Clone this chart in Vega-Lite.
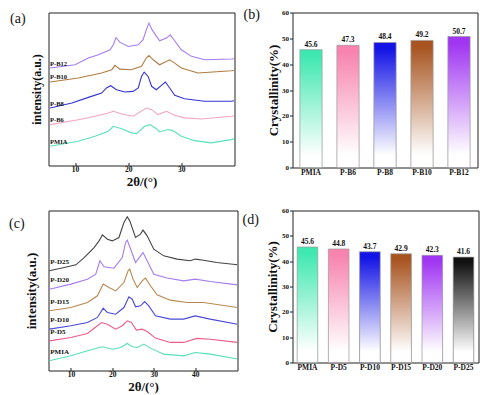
{
  "$schema": "https://vega.github.io/schema/vega-lite/v6.json",
  "background": "white",
  "padding": {"left": 8.5, "top": 6.5, "right": 0, "bottom": 0},
  "config": {
    "font": "Liberation Serif",
    "view": {"stroke": "#222", "strokeWidth": 1},
    "axis": {"grid": false, "domain": false, "labelFont": "Liberation Serif", "labelFontWeight": "bold", "labelFontSize": 7.5, "labelColor": "#111", "titleFont": "Liberation Serif", "titleFontWeight": "bold", "titleColor": "#111", "tickColor": "#222"},
    "title": {"font": "Liberation Serif", "fontWeight": "normal", "fontSize": 14, "anchor": "start", "frame": "group", "color": "#111", "offset": 0, "baseline": "middle"}
  },
  "datasets": {
    "xrdA": [
      {"s":"PMIA","t":5.3,"i":10.7},{"s":"PMIA","t":10.6,"i":14},{"s":"PMIA","t":13.75,"i":17.3},{"s":"PMIA","t":16.25,"i":20.7},{"s":"PMIA","t":17.2,"i":24},{"s":"PMIA","t":18.75,"i":22.4},{"s":"PMIA","t":20.6,"i":19.6},{"s":"PMIA","t":21.6,"i":19.1},{"s":"PMIA","t":23.1,"i":24},{"s":"PMIA","t":24.1,"i":25.1},{"s":"PMIA","t":25.3,"i":22.4},{"s":"PMIA","t":25.9,"i":20.2},{"s":"PMIA","t":27.5,"i":21.8},{"s":"PMIA","t":28.4,"i":21.1},{"s":"PMIA","t":30,"i":17.3},{"s":"PMIA","t":32.5,"i":14.4},{"s":"PMIA","t":35.6,"i":12.9},{"s":"PMIA","t":39.4,"i":15.1},{"s":"PMIA","t":39.9,"i":15.6},
      {"s":"P-B6","t":5.3,"i":25.1},{"s":"P-B6","t":10.6,"i":28.4},{"s":"P-B6","t":13.75,"i":30.7},{"s":"P-B6","t":16.25,"i":32.9},{"s":"P-B6","t":17.2,"i":34},{"s":"P-B6","t":18.75,"i":32.2},{"s":"P-B6","t":20.9,"i":30.7},{"s":"P-B6","t":23.4,"i":36.2},{"s":"P-B6","t":24.4,"i":35.1},{"s":"P-B6","t":25.6,"i":31.8},{"s":"P-B6","t":27.2,"i":34},{"s":"P-B6","t":28.75,"i":31.3},{"s":"P-B6","t":30.6,"i":29.6},{"s":"P-B6","t":33.8,"i":28.9},{"s":"P-B6","t":39.4,"i":30.7},{"s":"P-B6","t":39.9,"i":30.9},
      {"s":"P-B8","t":5.3,"i":36.2},{"s":"P-B8","t":9.4,"i":39.6},{"s":"P-B8","t":12.5,"i":43.3},{"s":"P-B8","t":15,"i":46.2},{"s":"P-B8","t":15.9,"i":49.6},{"s":"P-B8","t":16.7,"i":51.1},{"s":"P-B8","t":17.8,"i":48.4},{"s":"P-B8","t":19.4,"i":46.9},{"s":"P-B8","t":20.9,"i":47.3},{"s":"P-B8","t":21.9,"i":49.6},{"s":"P-B8","t":22.5,"i":57.3},{"s":"P-B8","t":23,"i":60.2},{"s":"P-B8","t":23.75,"i":57.3},{"s":"P-B8","t":24.4,"i":50.7},{"s":"P-B8","t":25.3,"i":48.4},{"s":"P-B8","t":26.25,"i":51.3},{"s":"P-B8","t":27,"i":53.6},{"s":"P-B8","t":27.8,"i":49.6},{"s":"P-B8","t":28.75,"i":44.7},{"s":"P-B8","t":30.6,"i":42.4},{"s":"P-B8","t":34.4,"i":40.7},{"s":"P-B8","t":39.4,"i":40.7},{"s":"P-B8","t":39.9,"i":41.1},
      {"s":"P-B10","t":5.3,"i":53.6},{"s":"P-B10","t":10.6,"i":56.2},{"s":"P-B10","t":15,"i":59.6},{"s":"P-B10","t":16.9,"i":61.8},{"s":"P-B10","t":17.5,"i":64.7},{"s":"P-B10","t":18.4,"i":62.2},{"s":"P-B10","t":20.6,"i":61.8},{"s":"P-B10","t":22.5,"i":64},{"s":"P-B10","t":23.4,"i":69.6},{"s":"P-B10","t":23.9,"i":71.3},{"s":"P-B10","t":24.7,"i":68.4},{"s":"P-B10","t":25.9,"i":65.1},{"s":"P-B10","t":27.8,"i":68.4},{"s":"P-B10","t":28.75,"i":66.2},{"s":"P-B10","t":30,"i":62.9},{"s":"P-B10","t":33.1,"i":59.6},{"s":"P-B10","t":39.4,"i":61.1},{"s":"P-B10","t":39.9,"i":61.3},
      {"s":"P-B12","t":5.3,"i":62.9},{"s":"P-B12","t":10,"i":65.1},{"s":"P-B12","t":12.5,"i":69.6},{"s":"P-B12","t":14.4,"i":71.8},{"s":"P-B12","t":16.6,"i":75.1},{"s":"P-B12","t":17.2,"i":78.4},{"s":"P-B12","t":17.7,"i":83.3},{"s":"P-B12","t":18.4,"i":80.2},{"s":"P-B12","t":20,"i":77.3},{"s":"P-B12","t":21.9,"i":78.4},{"s":"P-B12","t":22.8,"i":81.8},{"s":"P-B12","t":23.4,"i":88.4},{"s":"P-B12","t":23.9,"i":92.9},{"s":"P-B12","t":24.5,"i":88.4},{"s":"P-B12","t":25.9,"i":81.1},{"s":"P-B12","t":27.2,"i":82.9},{"s":"P-B12","t":27.9,"i":85.1},{"s":"P-B12","t":28.6,"i":81.8},{"s":"P-B12","t":30,"i":75.1},{"s":"P-B12","t":31.9,"i":70.7},{"s":"P-B12","t":34.4,"i":68.4},{"s":"P-B12","t":39.4,"i":68.9},{"s":"P-B12","t":39.9,"i":69.1}
    ],
    "xrdC": [
      {"s":"P-D25","t":4.8,"i":62.2},{"s":"P-D25","t":8.4,"i":64.4},{"s":"P-D25","t":11.2,"i":66.1},{"s":"P-D25","t":13.2,"i":70.8},{"s":"P-D25","t":15.6,"i":77.3},{"s":"P-D25","t":16.8,"i":81.6},{"s":"P-D25","t":17.6,"i":85.5},{"s":"P-D25","t":18.8,"i":82.7},{"s":"P-D25","t":20,"i":81.6},{"s":"P-D25","t":21.6,"i":83.8},{"s":"P-D25","t":22.8,"i":93.5},{"s":"P-D25","t":23.6,"i":97.2},{"s":"P-D25","t":24.2,"i":94.6},{"s":"P-D25","t":25.6,"i":83.8},{"s":"P-D25","t":26.8,"i":86},{"s":"P-D25","t":27.4,"i":88.6},{"s":"P-D25","t":28.4,"i":84.9},{"s":"P-D25","t":30,"i":76.2},{"s":"P-D25","t":32.4,"i":71.9},{"s":"P-D25","t":35.6,"i":69.8},{"s":"P-D25","t":38.8,"i":68.7},{"s":"P-D25","t":40,"i":69.8},{"s":"P-D25","t":42,"i":69.1},{"s":"P-D25","t":45.2,"i":67.6},{"s":"P-D25","t":50.2,"i":66.1},
      {"s":"P-D20","t":4.8,"i":50.3},{"s":"P-D20","t":10,"i":53.6},{"s":"P-D20","t":14,"i":56.8},{"s":"P-D20","t":16,"i":60},{"s":"P-D20","t":17,"i":68.7},{"s":"P-D20","t":18,"i":64.8},{"s":"P-D20","t":20.4,"i":63.9},{"s":"P-D20","t":22.4,"i":70.8},{"s":"P-D20","t":23.2,"i":80.6},{"s":"P-D20","t":23.6,"i":82.1},{"s":"P-D20","t":24.2,"i":77.8},{"s":"P-D20","t":25.6,"i":67.6},{"s":"P-D20","t":26.8,"i":71.9},{"s":"P-D20","t":27.4,"i":74.1},{"s":"P-D20","t":28.4,"i":68.7},{"s":"P-D20","t":30,"i":60},{"s":"P-D20","t":33.2,"i":57.5},{"s":"P-D20","t":37.2,"i":55.7},{"s":"P-D20","t":40,"i":56.8},{"s":"P-D20","t":43.6,"i":55.3},{"s":"P-D20","t":50.2,"i":53.1},
      {"s":"P-D15","t":4.8,"i":36.3},{"s":"P-D15","t":10,"i":38.4},{"s":"P-D15","t":14,"i":41.7},{"s":"P-D15","t":16.4,"i":46},{"s":"P-D15","t":17.8,"i":53.6},{"s":"P-D15","t":19.2,"i":51.4},{"s":"P-D15","t":20.8,"i":49.2},{"s":"P-D15","t":22.8,"i":54.6},{"s":"P-D15","t":23.8,"i":62.2},{"s":"P-D15","t":24.2,"i":63.3},{"s":"P-D15","t":25,"i":56.8},{"s":"P-D15","t":26,"i":51.4},{"s":"P-D15","t":27.2,"i":55.7},{"s":"P-D15","t":28,"i":57.5},{"s":"P-D15","t":29.2,"i":52.5},{"s":"P-D15","t":30.8,"i":46.7},{"s":"P-D15","t":34,"i":43.2},{"s":"P-D15","t":38,"i":41.7},{"s":"P-D15","t":42,"i":41.7},{"s":"P-D15","t":50.2,"i":38.4},
      {"s":"P-D10","t":4.8,"i":24.4},{"s":"P-D10","t":10,"i":26.6},{"s":"P-D10","t":14,"i":28.7},{"s":"P-D10","t":16.4,"i":32},{"s":"P-D10","t":17.8,"i":38},{"s":"P-D10","t":18.8,"i":35.2},{"s":"P-D10","t":20.8,"i":34.1},{"s":"P-D10","t":22.8,"i":38.4},{"s":"P-D10","t":24,"i":45.4},{"s":"P-D10","t":24.8,"i":43.8},{"s":"P-D10","t":25.6,"i":38.9},{"s":"P-D10","t":26.8,"i":39.5},{"s":"P-D10","t":27.8,"i":42.3},{"s":"P-D10","t":28.8,"i":39.5},{"s":"P-D10","t":30.4,"i":33},{"s":"P-D10","t":34,"i":30.9},{"s":"P-D10","t":37.2,"i":30.9},{"s":"P-D10","t":40,"i":33},{"s":"P-D10","t":43.6,"i":30.9},{"s":"P-D10","t":50.2,"i":27.6},
      {"s":"P-D5","t":4.8,"i":16.8},{"s":"P-D5","t":10,"i":19},{"s":"P-D5","t":14,"i":21.6},{"s":"P-D5","t":16.4,"i":26.6},{"s":"P-D5","t":17.4,"i":28.7},{"s":"P-D5","t":18.8,"i":27.6},{"s":"P-D5","t":20.8,"i":24.4},{"s":"P-D5","t":22.4,"i":26.6},{"s":"P-D5","t":23.6,"i":29.8},{"s":"P-D5","t":24.6,"i":28.7},{"s":"P-D5","t":25.8,"i":23.8},{"s":"P-D5","t":27.2,"i":24.4},{"s":"P-D5","t":28.4,"i":22.9},{"s":"P-D5","t":30.4,"i":18.6},{"s":"P-D5","t":34,"i":15.8},{"s":"P-D5","t":37.2,"i":15.8},{"s":"P-D5","t":40.4,"i":18.4},{"s":"P-D5","t":43.6,"i":17.9},{"s":"P-D5","t":50.2,"i":15.8},
      {"s":"PMIA","t":4.8,"i":3.9},{"s":"PMIA","t":10,"i":7.1},{"s":"PMIA","t":14,"i":10.4},{"s":"PMIA","t":17.6,"i":13},{"s":"PMIA","t":20,"i":11.4},{"s":"PMIA","t":22,"i":12.5},{"s":"PMIA","t":23.6,"i":15.1},{"s":"PMIA","t":24.8,"i":13},{"s":"PMIA","t":26,"i":12.5},{"s":"PMIA","t":27.6,"i":14.7},{"s":"PMIA","t":29.2,"i":12.1},{"s":"PMIA","t":32.4,"i":8.2},{"s":"PMIA","t":37.2,"i":7.1},{"s":"PMIA","t":40,"i":9.3},{"s":"PMIA","t":43.6,"i":8.2},{"s":"PMIA","t":50.2,"i":5}
    ],
    "crystB": [
      {"sample":"PMIA","c":45.6},{"sample":"P-B6","c":47.3},{"sample":"P-B8","c":48.4},{"sample":"P-B10","c":49.2},{"sample":"P-B12","c":50.7}
    ],
    "crystD": [
      {"sample":"PMIA","c":45.6},{"sample":"P-D5","c":44.8},{"sample":"P-D10","c":43.7},{"sample":"P-D15","c":42.9},{"sample":"P-D20","c":42.3},{"sample":"P-D25","c":41.6}
    ]
  },
  "columns": 2,
  "align": "each",
  "bounds": "flush",
  "spacing": {"row": 43, "column": 55},
  "resolve": {"scale": {"color": "independent", "x": "independent", "y": "independent"}},
  "concat": [
    {
      "width": 186, "height": 153,
      "title": {"text": "(a)", "dx": -38.5, "dy": 17},
      "data": {"name": "xrdA"},
      "layer": [
        {
          "mark": {"type": "line", "strokeWidth": 1.1, "clip": true},
          "encoding": {
            "x": {"field": "t", "type": "quantitative", "scale": {"domain": [5, 40], "nice": false, "zero": false}, "axis": {"values": [10, 20, 30], "title": "2θ/(°)", "titleFontSize": 13, "tickSize": -3, "labelPadding": 3, "titlePadding": 2}},
            "y": {"field": "i", "type": "quantitative", "scale": {"domain": [-2.2, 100], "nice": false, "zero": false}, "axis": {"labels": false, "ticks": false, "title": "intensity(a.u.)", "titleFontSize": 12, "titlePadding": 5}},
            "color": {"field": "s", "type": "nominal", "scale": {"domain": ["PMIA", "P-B6", "P-B8", "P-B10", "P-B12"], "range": ["#57E0BC", "#F4A6BE", "#3434D2", "#B07A42", "#A57CF2"]}, "legend": null}
          }
        },
        {
          "transform": [{"filter": "datum.t < 5.5"}],
          "mark": {"type": "text", "align": "left", "baseline": "bottom", "dy": -1.5, "fontSize": 6.5, "fontWeight": "bold", "color": "#111"},
          "encoding": {
            "x": {"field": "t", "type": "quantitative"},
            "y": {"field": "i", "type": "quantitative"},
            "text": {"field": "s"}
          }
        }
      ]
    },
    {
      "width": 185, "height": 155,
      "title": {"text": "(b)", "dx": -49, "dy": 17},
      "data": {"name": "crystB"},
      "encoding": {
        "x": {"field": "sample", "type": "nominal", "sort": null, "scale": {"paddingInner": 0.4, "paddingOuter": 0.2}, "axis": {"title": null, "labelAngle": 0, "tickSize": -3, "labelPadding": 4}},
        "y": {"field": "c", "type": "quantitative", "scale": {"domain": [0, 60], "nice": false}, "axis": {"values": [0, 10, 20, 30, 40, 50, 60], "title": "Crystallinity(%)", "titleFontSize": 13, "tickSize": 3, "labelPadding": 1, "titlePadding": 1, "labelFontSize": 7}}
      },
      "layer": [
        {"mark": {"type": "bar"}, "encoding": {"color": {"field": "sample", "type": "nominal", "sort": null, "scale": {"domain": ["PMIA", "P-B6", "P-B8", "P-B10", "P-B12"], "range": ["#3FE8B0", "#F783AE", "#1414E6", "#A85420", "#A035F2"]}, "legend": null}}},
        {"mark": {"type": "bar", "stroke": "#9a9a9a", "strokeWidth": 0.7, "fill": {"gradient": "linear", "x1": 0, "y1": 0, "x2": 0, "y2": 1, "stops": [{"offset": 0.05, "color": "rgba(255,255,255,0)"}, {"offset": 0.9, "color": "rgba(255,255,255,1)"}]}}},
        {"mark": {"type": "text", "baseline": "bottom", "dy": -1, "fontSize": 7.5, "fontWeight": "bold", "color": "#111"}, "encoding": {"text": {"field": "c", "type": "quantitative", "format": ".1f"}}}
      ]
    },
    {
      "width": 189, "height": 160,
      "title": {"text": "(c)", "dx": -39.5, "dy": 24},
      "data": {"name": "xrdC"},
      "layer": [
        {
          "mark": {"type": "line", "strokeWidth": 1.1, "clip": true},
          "encoding": {
            "x": {"field": "t", "type": "quantitative", "scale": {"domain": [4.6, 50.2], "nice": false, "zero": false}, "axis": {"values": [10, 20, 30, 40], "title": "2θ/(°)", "titleFontSize": 13, "tickSize": -3, "labelPadding": 3, "titlePadding": 2}},
            "y": {"field": "i", "type": "quantitative", "scale": {"domain": [-2.4, 101.3], "nice": false, "zero": false}, "axis": {"labels": false, "ticks": false, "title": "intensity(a.u.)", "titleFontSize": 13, "titlePadding": 10}},
            "color": {"field": "s", "type": "nominal", "scale": {"domain": ["PMIA", "P-D5", "P-D10", "P-D15", "P-D20", "P-D25"], "range": ["#57E0BC", "#EC5C86", "#4A4ADA", "#B8894E", "#A57CF2", "#444444"]}, "legend": null}
          }
        },
        {
          "transform": [{"filter": "datum.t < 5"}],
          "mark": {"type": "text", "align": "left", "baseline": "bottom", "dx": 1, "dy": -6, "fontSize": 7, "fontWeight": "bold", "color": "#111"},
          "encoding": {
            "x": {"field": "t", "type": "quantitative"},
            "y": {"field": "i", "type": "quantitative"},
            "text": {"field": "s"}
          }
        }
      ]
    },
    {
      "width": 186, "height": 152,
      "title": {"text": "(d)", "dx": -50, "dy": 24},
      "data": {"name": "crystD"},
      "encoding": {
        "x": {"field": "sample", "type": "nominal", "sort": null, "scale": {"paddingInner": 0.34, "paddingOuter": 0.15}, "axis": {"title": null, "labelAngle": 0, "tickSize": -3, "labelPadding": 3.5}},
        "y": {"field": "c", "type": "quantitative", "scale": {"domain": [0, 60], "nice": false}, "axis": {"values": [0, 10, 20, 30, 40, 50, 60], "title": "Crystallinity(%)", "titleFontSize": 13, "tickSize": 3, "labelPadding": 1, "titlePadding": 2, "labelFontSize": 7}}
      },
      "layer": [
        {"mark": {"type": "bar"}, "encoding": {"color": {"field": "sample", "type": "nominal", "sort": null, "scale": {"domain": ["PMIA", "P-D5", "P-D10", "P-D15", "P-D20", "P-D25"], "range": ["#3FE8B0", "#F783AE", "#1414E6", "#A85420", "#A035F2", "#111111"]}, "legend": null}}},
        {"mark": {"type": "bar", "stroke": "#9a9a9a", "strokeWidth": 0.7, "fill": {"gradient": "linear", "x1": 0, "y1": 0, "x2": 0, "y2": 1, "stops": [{"offset": 0.05, "color": "rgba(255,255,255,0)"}, {"offset": 0.9, "color": "rgba(255,255,255,1)"}]}}},
        {"mark": {"type": "text", "baseline": "bottom", "dy": -1, "fontSize": 7.5, "fontWeight": "bold", "color": "#111"}, "encoding": {"text": {"field": "c", "type": "quantitative", "format": ".1f"}}}
      ]
    }
  ]
}
